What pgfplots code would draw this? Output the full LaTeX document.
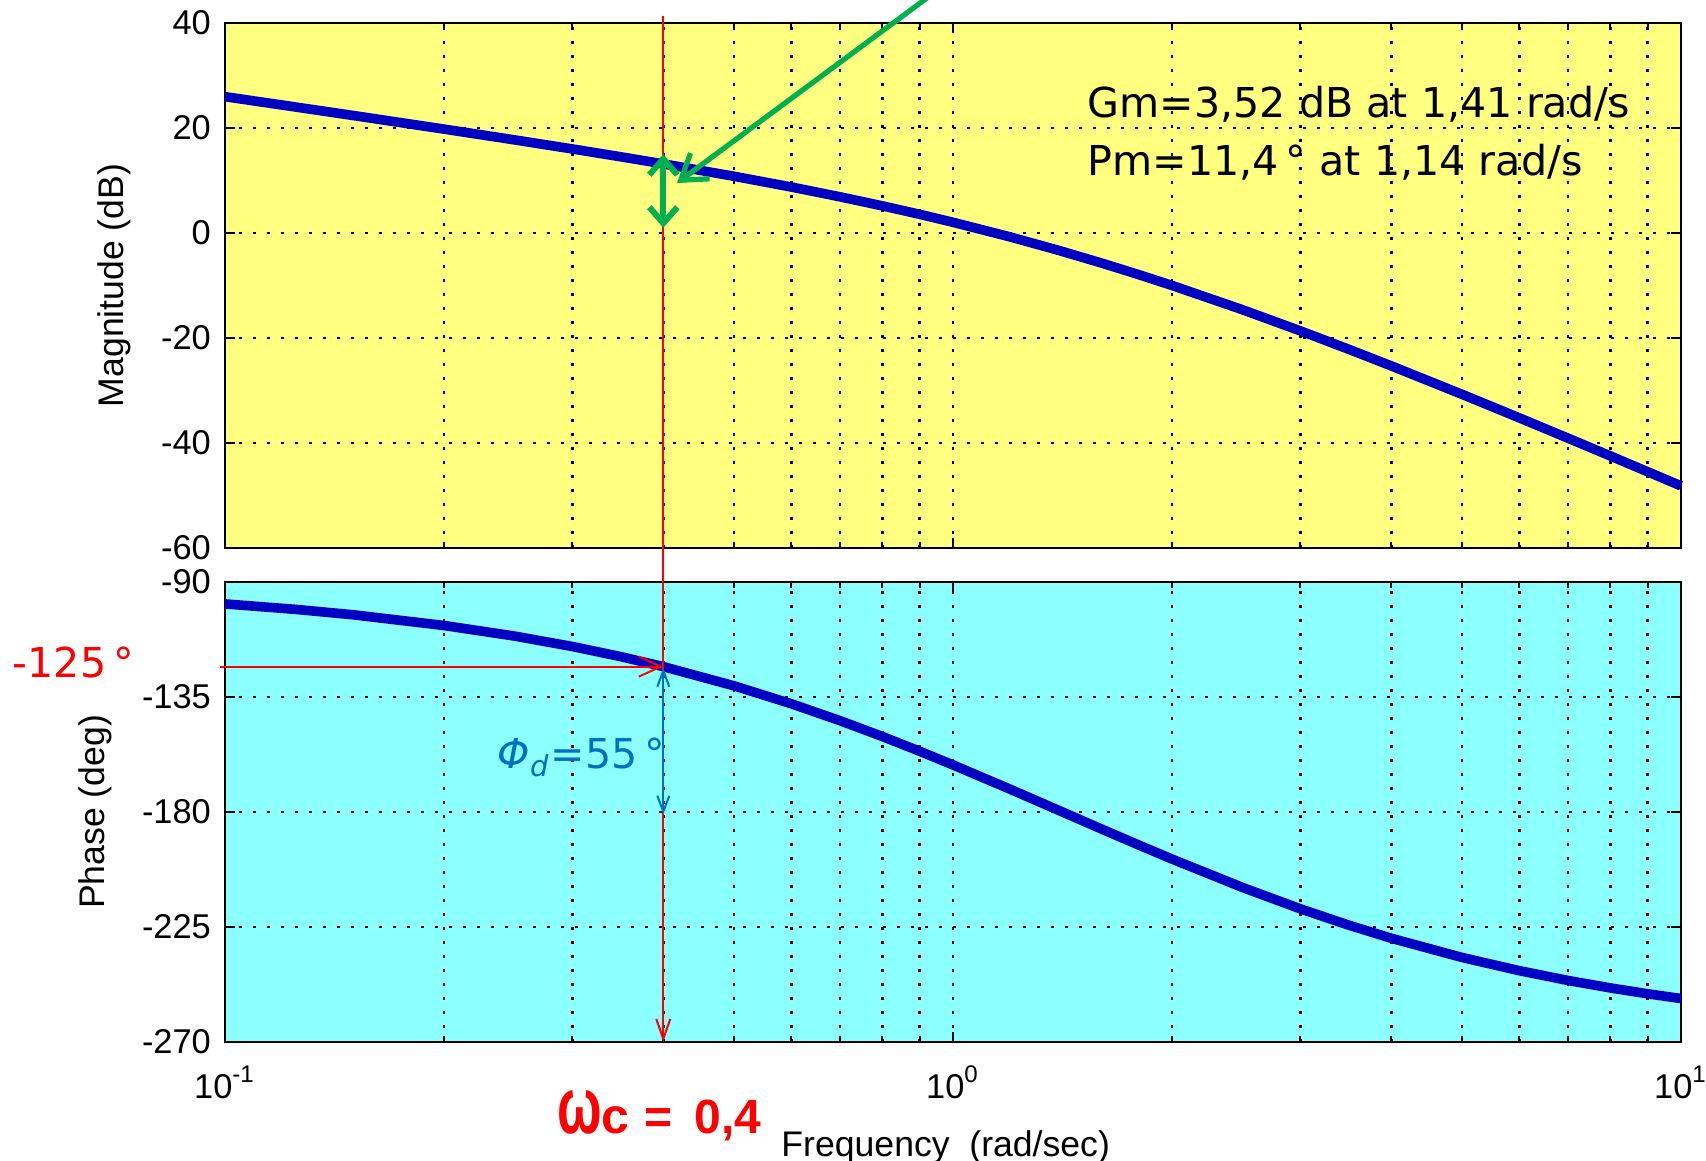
\documentclass[border=0pt]{standalone}
\usepackage{pgfplots}
\pgfplotsset{compat=1.18}
\usepackage{pgfplotstable}
\usepackage{graphicx}
\usepackage{fontspec}
\setmainfont{Liberation Sans}
\newfontfamily\dejavu{DejaVu Sans}
\usetikzlibrary{arrows.meta}
\definecolor{ylw}{RGB}{255,255,128}
\definecolor{cyn}{RGB}{140,255,255}
\definecolor{crv}{RGB}{0,0,195}
\definecolor{grn}{RGB}{0,176,80}
\definecolor{blu}{RGB}{0,112,192}

\pgfplotstableread{
w     mag      ph
0.1   25.966  -98.57
0.125 23.998  -100.70
0.15  22.378  -102.82
0.2   19.786  -107.02
0.25  17.731  -111.16
0.3   16.008  -115.23
0.35  14.506  -119.22
0.4   13.165  -123.11
0.5   10.809  -130.60
0.6    8.748  -137.66
0.7    6.885  -144.28
0.8    5.165  -150.46
0.9    3.558  -156.22
1.0    2.041  -161.57
1.2   -0.773  -171.16
1.4   -3.347  -179.45
1.6   -5.725  -186.66
1.8   -7.935  -192.93
2.0   -9.999  -198.43
2.5  -14.629  -209.54
3.0  -18.640  -217.88
3.5  -22.171  -224.31
4.0  -25.315  -229.40
5.0  -30.712  -236.89
6.0  -35.225  -242.10
7.0  -39.094  -245.93
8.0  -42.475  -248.84
9.0  -45.476  -251.13
10.0 -48.172  -252.98
}\bode

\pgfplotsset{
 bodeax/.style={
  scale only axis, width=364pt, xmin=0.1, xmax=10,
  anchor=south west,
  axis line style={line width=0.5pt},
  every tick/.style={black, line width=0.5pt},
  major tick length=2.5pt, minor tick length=1.6pt,
  xtick={0.1,1,10},
  minor xtick={0.2,0.3,0.4,0.5,0.6,0.7,0.8,0.9,2,3,4,5,6,7,8,9},
  xmajorgrids, xminorgrids, ymajorgrids,
  major grid style={black, line width=0.65pt, dash pattern=on 0.65pt off 2.85pt},
  minor grid style={black, line width=0.65pt, dash pattern=on 0.65pt off 2.85pt},
  ticklabel style={font=\fontsize{8.6}{10}\selectfont},
  /pgf/number format/assume math mode=true,
  label style={font=\fontsize{8.9}{10}\selectfont},
  clip=false,
 }
}

\begin{document}
\begin{tikzpicture}
\useasboundingbox (0,0) rectangle (426.5pt,-290pt);
% Magnitude
\begin{semilogxaxis}[bodeax, at={(56.25pt,-137pt)}, height=131.25pt,
  ymin=-60, ymax=40, ytick={-60,-40,-20,0,20,40},
  xticklabels={},
  axis background/.style={fill=ylw},
  ylabel={Magnitude (dB)},
  ylabel style={at={(axis description cs:-0.0762,0.5)}, anchor=center},
]
\addplot[crv, line width=2.4pt] table[x=w, y=mag] {\bode};
\coordinate (g0) at (axis cs:0.4,1);
\coordinate (g1) at (axis cs:0.4,15);
\end{semilogxaxis}
% Phase
\begin{semilogxaxis}[bodeax, at={(56.25pt,-260.5pt)}, height=115pt,
  ymin=-270, ymax=-90, ytick={-270,-225,-180,-135,-90},
  xticklabels={10\textsuperscript{-1},10\textsuperscript{0},10\textsuperscript{1}},
  xticklabel style={yshift=-2.5pt},
  axis background/.style={fill=cyn},
  ylabel={Phase (deg)},
  ylabel style={at={(axis description cs:-0.0893,0.5)}, anchor=center},
  xlabel={Frequency\ \ (rad/sec)},
  xlabel style={at={(axis description cs:0.495,-0.2478)}, anchor=base},
]
\addplot[crv, line width=2.4pt] table[x=w, y=ph] {\bode};
\coordinate (r270) at (axis cs:0.4,-270);
\coordinate (r123) at (axis cs:0.4,-123.1);
\coordinate (rl) at (axis cs:0.0985,-123.1);
\coordinate (b1) at (axis cs:0.4,-123.6);
\coordinate (b2) at (axis cs:0.4,-181);
\end{semilogxaxis}

\begin{scope}[x=0.25pt, y=-0.25pt]
% red lines
\draw[red, line width=0.5pt, -{Straight Barb[length=5pt,width=3.5pt]}] (r270 |- 0,16) -- (r270);
\draw[red, line width=0.5pt, -{Straight Barb[length=5.5pt,width=5pt]}] (rl) -- (r123);
% blue arrow
\draw[blu, line width=0.5pt, {Straight Barb[length=4pt,width=3pt]}-{Straight Barb[length=4pt,width=3pt]}] (b1) -- (b2);
% green arrows
\draw[grn, line width=1.5pt, {Straight Barb[length=4pt,width=7pt]}-{Straight Barb[length=4pt,width=7pt]}] (g0) -- (g1);
\draw[grn, line width=1.3pt, -{Straight Barb[length=6pt,width=8pt]}] (931,-5) -- (677,183);
% texts
\node[anchor=base west, inner sep=0, font=\dejavu\fontsize{10.3}{12}\selectfont] at (1087,117) {Gm=3,52 dB at 1,41 rad/s};
\node[anchor=base west, inner sep=0, font=\dejavu\fontsize{10.3}{12}\selectfont] at (1087,175) {Pm=11,4\,° at 1,14 rad/s};
\node[anchor=base west, inner sep=0, text=red, font=\dejavu\fontsize{10.3}{12}\selectfont] at (12,677) {-125\,°};
\node[anchor=base west, inner sep=0, text=blu, font=\dejavu\fontsize{10.3}{12}\selectfont] at (497,768) {\itshape Φ\textsubscript{d}\upshape=55\,°};
\node[anchor=base west, inner sep=0, text=red, font=\bfseries] at (557,1133) {\fontsize{20}{20}\selectfont\scalebox{0.66}[1]{ω}\kern-0.3pt\fontsize{12.5}{12}\selectfont c};
\node[anchor=base west, inner sep=0, text=red, font=\bfseries\fontsize{12}{12}\selectfont] at (644,1133) {=};
\node[anchor=base west, inner sep=0, text=red, font=\bfseries\fontsize{12}{12}\selectfont] at (694,1133) {0,4};
\end{scope}
\end{tikzpicture}
\end{document}
